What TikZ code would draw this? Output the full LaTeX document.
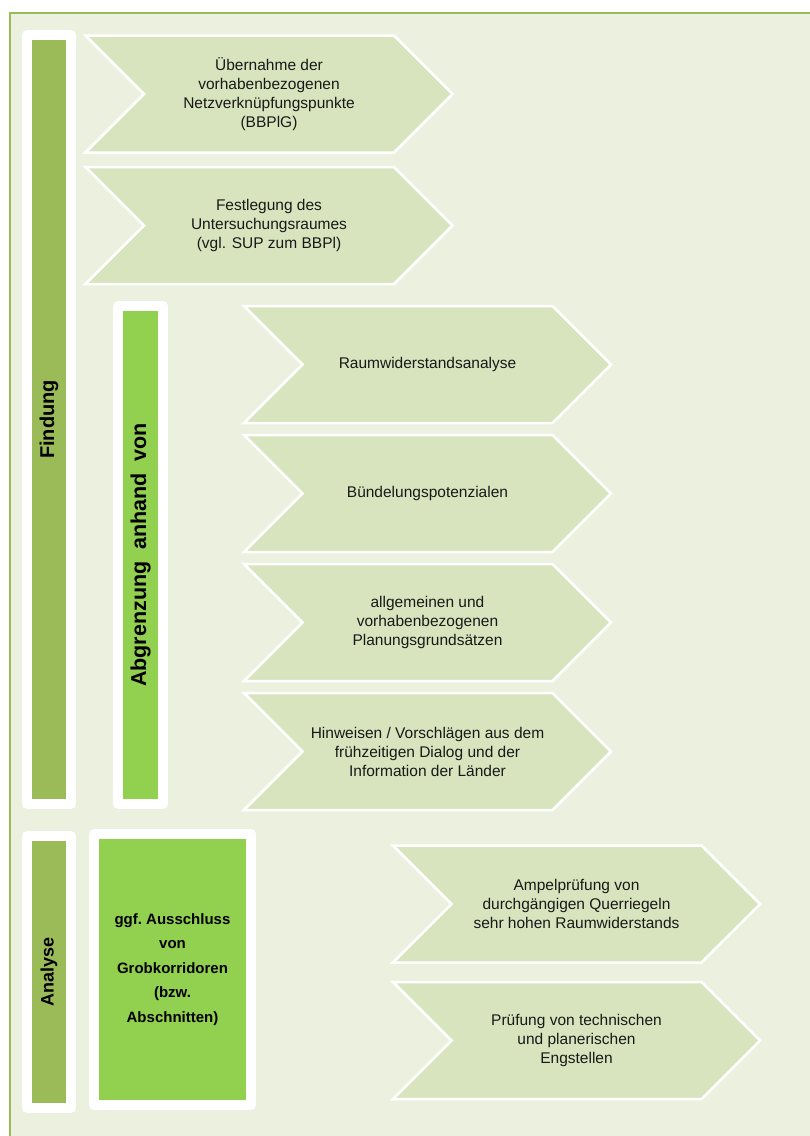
\documentclass[tikz,border=0pt]{standalone}
\usepackage{fontspec}
\setmainfont{Liberation Sans}
\usetikzlibrary{shapes.symbols,positioning}
\definecolor{bgframe}{HTML}{EBF1DE}
\definecolor{framegreen}{HTML}{9BBB59}
\definecolor{chevfill}{HTML}{D7E4BD}
\definecolor{lightgreen}{HTML}{92D050}
\begin{document}
\begin{tikzpicture}
    [x=1pt, y=-1pt,
    chevron/.style={signal, signal from=west, signal to=east, signal pointer angle=90,
        minimum width=367pt, minimum height=117pt, fill=chevfill, draw=white,
        line width=2.5pt, align=center, inner sep=0pt, text=black!90,
        font=\fontsize{15.5}{19}\selectfont},
    phasebar/.style={rectangle, rotate=90, minimum height=44pt, fill=framegreen,
        draw=white, line width=10pt, line join=round,
        font=\bfseries\fontsize{20}{24}\selectfont},
    stepbar/.style={phasebar, fill=lightgreen, minimum height=45pt,
        font=\bfseries\fontsize{21.5}{24}\selectfont},
    stepbox/.style={rectangle, fill=lightgreen, draw=white, line width=10pt,
        line join=round, align=center, font=\bfseries\fontsize{15}{24.5}\selectfont}
    ]
    \useasboundingbox (0,0) rectangle (810,1136);
    % frame
    \fill[bgframe] (10,13) rectangle (810,1136);
    \draw[framegreen, line width=2.5pt] (10,1136) -- (10,13) -- (810,13);

    % phases
    \node[phasebar, minimum width=769pt] (findung) at (49,419.5) {Findung};
    \node[stepbar, minimum width=498pt] (abgrenzung) at (140.5,555) {Abgrenzung\ \ anhand\ \ von};
    \node[phasebar, minimum width=272pt, font=\bfseries\fontsize{18}{22}\selectfont] (analyse) at (49,972) {Analyse};
    \node[stepbox, minimum width=157pt, minimum height=271pt] (ausschluss) at (172.5,969.5)
        {ggf.\ Ausschluss\\von\\Grobkorridoren\\(bzw.\\Abschnitten)};

    % Findung
    \node[chevron] (uebernahme) at (269,94) {Übernahme der\\vorhabenbezogenen\\Netzverknüpfungspunkte\\(BBPlG)};
    \node[chevron, below=12pt of uebernahme] (festlegung) {Festlegung des\\Untersuchungsraumes\\(vgl. SUP zum BBPl)};

    % Abgrenzung
    \node[chevron] (raumwiderstand) at (427.5,364.5) {Raumwiderstandsanalyse};
    \node[chevron, below=9.5pt of raumwiderstand] (buendelung) {Bündelungspotenzialen};
    \node[chevron, below=9.5pt of buendelung] (grundsaetze) {allgemeinen und\\vorhabenbezogenen\\Planungsgrundsätzen};
    \node[chevron, below=9.5pt of grundsaetze] (hinweise) {Hinweisen / Vorschlägen aus dem\\frühzeitigen Dialog und der\\Information der Länder};

    % Analyse
    \node[chevron] (ampel) at (576.5,904) {Ampelprüfung von\\durchgängigen Querriegeln\\sehr hohen Raumwiderstands};
    \node[chevron, below=17pt of ampel] (engstellen) {Prüfung von technischen\\und planerischen\\Engstellen};
\end{tikzpicture}
\end{document}
